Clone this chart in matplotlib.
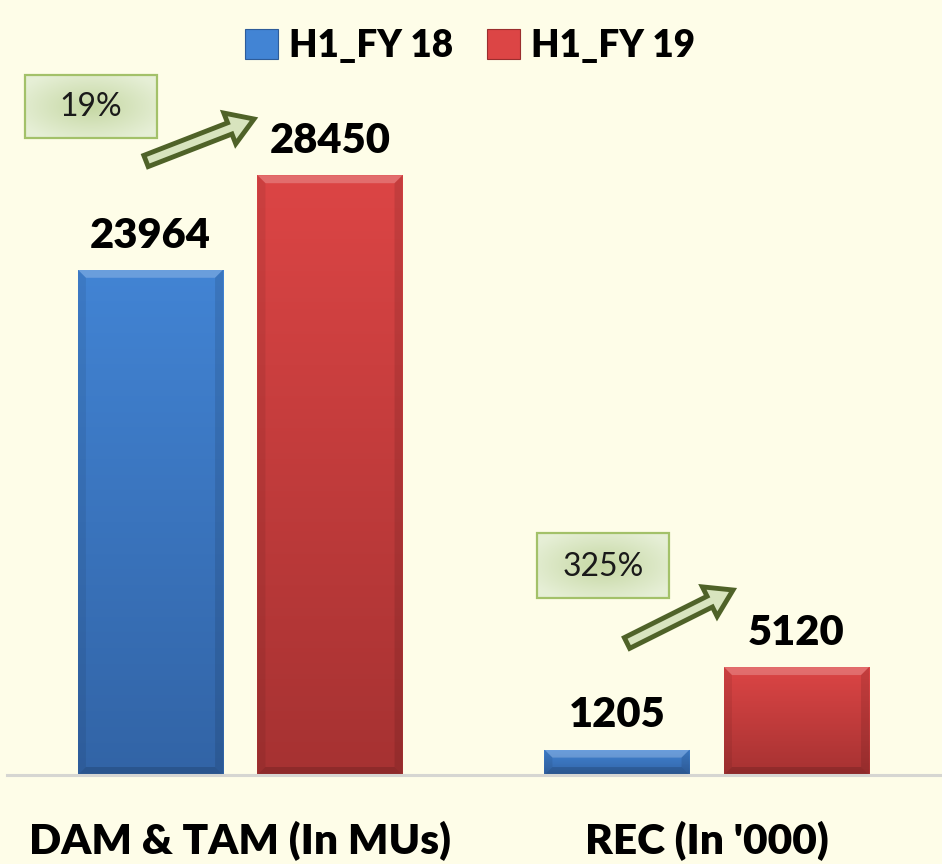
import matplotlib
matplotlib.use('Agg')
import matplotlib.pyplot as plt
import numpy as np
from matplotlib.patches import Patch, Rectangle, FancyArrow, Polygon
from matplotlib.colors import LinearSegmentedColormap

# ---- data ----
categories = ["DAM & TAM (In MUs)", "REC (In '000)"]
series_names = ["H1_FY 18", "H1_FY 19"]
fy18 = [23964, 1205]
fy19 = [28450, 5120]
growth = ["19%", "325%"]

# ---- style ----
BG = '#FEFDE8'
BLUE_TOP, BLUE_BOT = '#4284D4', '#3264A6'
RED_TOP, RED_BOT = '#DC4545', '#A63232'
FONT = 'Lato'
HEAVY = 'heavy'

W, H = 942, 864
fig = plt.figure(figsize=(W / 100, H / 100), dpi=100, facecolor=BG)
ax = fig.add_axes([7 / W, 89 / H, 933 / W, 775 / H])
ax.set_facecolor(BG)

bar_w = 0.311
offset = 0.1924
ymax = 36760
x = np.arange(len(categories))

# pixel -> data conversion used for the bevel sizes
px_x = 2.0 / 933
px_y = ymax / 775


def draw_bar(xc, h, top, bot):
    x0, x1 = xc - bar_w / 2, xc + bar_w / 2
    bars = ax.bar(xc, h, width=bar_w, color=bot, edgecolor='none', zorder=2)
    patch = bars[0]
    cmap = LinearSegmentedColormap.from_list('g', [bot, top])
    grad = np.linspace(0, 1, 256).reshape(-1, 1)
    im = ax.imshow(grad, extent=[x0, x1, 0, h], origin='lower', aspect='auto',
                   cmap=cmap, zorder=2.1)
    im.set_clip_path(patch)
    bx = 8 * px_x
    by = min(8 * px_y, h / 3)
    # bevel: light top, dark sides and bottom
    ax.add_patch(Polygon([(x0, h), (x1, h), (x1 - bx, h - by), (x0 + bx, h - by)],
                         closed=True, fc='white', alpha=0.22, ec='none', zorder=2.2))
    ax.add_patch(Polygon([(x0, h), (x0 + bx, h - by), (x0 + bx, by), (x0, 0)],
                         closed=True, fc='black', alpha=0.07, ec='none', zorder=2.2))
    ax.add_patch(Polygon([(x1, h), (x1 - bx, h - by), (x1 - bx, by), (x1, 0)],
                         closed=True, fc='black', alpha=0.10, ec='none', zorder=2.2))
    ax.add_patch(Polygon([(x0, 0), (x1, 0), (x1 - bx, by), (x0 + bx, by)],
                         closed=True, fc='black', alpha=0.14, ec='none', zorder=2.2))
    ax.annotate(f"{h}", (xc, h), xytext=(0, 16), textcoords='offset points',
                ha='center', va='baseline', fontsize=30, fontweight=HEAVY,
                family=FONT, color='black', zorder=4)


for i in range(len(categories)):
    draw_bar(x[i] - offset, fy18[i], BLUE_TOP, BLUE_BOT)
    draw_bar(x[i] + offset, fy19[i], RED_TOP, RED_BOT)

ax.set_xlim(-0.5, 1.5)
ax.set_ylim(0, ymax)
ax.set_yticks([])
ax.set_xticks(x, categories)
ax.tick_params(axis='x', length=0, pad=33)
for lab in ax.get_xticklabels():
    lab.set_fontfamily(FONT)
    lab.set_fontweight(HEAVY)
    lab.set_fontsize(30.5)
for s in ['top', 'left', 'right']:
    ax.spines[s].set_visible(False)
ax.spines['bottom'].set_color('#D6D6D2')
ax.spines['bottom'].set_linewidth(2.2)

# ---- legend ----
handles = [Patch(facecolor=BLUE_TOP, edgecolor='#2E5C99', lw=0.8),
           Patch(facecolor=RED_TOP, edgecolor='#9A2E2E', lw=0.8)]
fig.legend(handles, series_names, loc='upper center', bbox_to_anchor=(0.499, 1.005),
           ncol=2, frameon=False,
           prop=dict(family=FONT, weight=HEAVY, size=26.5),
           handlelength=0.9, handleheight=0.9, handletextpad=0.3,
           columnspacing=0.9)

# ---- growth callouts (pixel-space overlay) ----
ov = fig.add_axes([0, 0, 1, 1])
ov.set_xlim(0, W)
ov.set_ylim(H, 0)
ov.axis('off')
ov.patch.set_alpha(0)

box_cmap = LinearSegmentedColormap.from_list('box', ['#C6D8A4', '#E6EFD6'])
yy, xx = np.mgrid[-1:1:60j, -1:1:120j]
radial = np.clip(np.sqrt(xx ** 2 + yy ** 2) / 1.2, 0, 1)

callouts = [
    dict(box=(25, 75, 132, 63), text=growth[0], tail=(146, 161), tip=(254, 119)),
    dict(box=(537, 533, 132, 65), text=growth[1], tail=(627, 643), tip=(733, 590)),
]
for c in callouts:
    bx, by, bw, bh = c['box']
    rect = Rectangle((bx, by), bw, bh, fc='none', ec='#A3C169', lw=1.6, zorder=5)
    ov.add_patch(rect)
    im = ov.imshow(radial, extent=[bx, bx + bw, by + bh, by], cmap=box_cmap,
                   aspect='auto', zorder=4)
    im.set_clip_path(rect)
    ov.text(bx + bw / 2, by + bh / 2 + 1, c['text'], ha='center', va='center',
            fontsize=23, family=FONT, color='#1A1A1A', zorder=6)
    (tx, ty), (hx, hy) = c['tail'], c['tip']
    ov.add_patch(FancyArrow(tx, ty, hx - tx, hy - ty, width=12, head_width=33,
                            head_length=26, length_includes_head=True,
                            fc='#D8E4BE', ec='#4F6228', lw=3.5, joinstyle='miter',
                            zorder=6))
ov.set_xlim(0, W)
ov.set_ylim(H, 0)

fig.savefig('out.png', dpi=100, facecolor=BG)
